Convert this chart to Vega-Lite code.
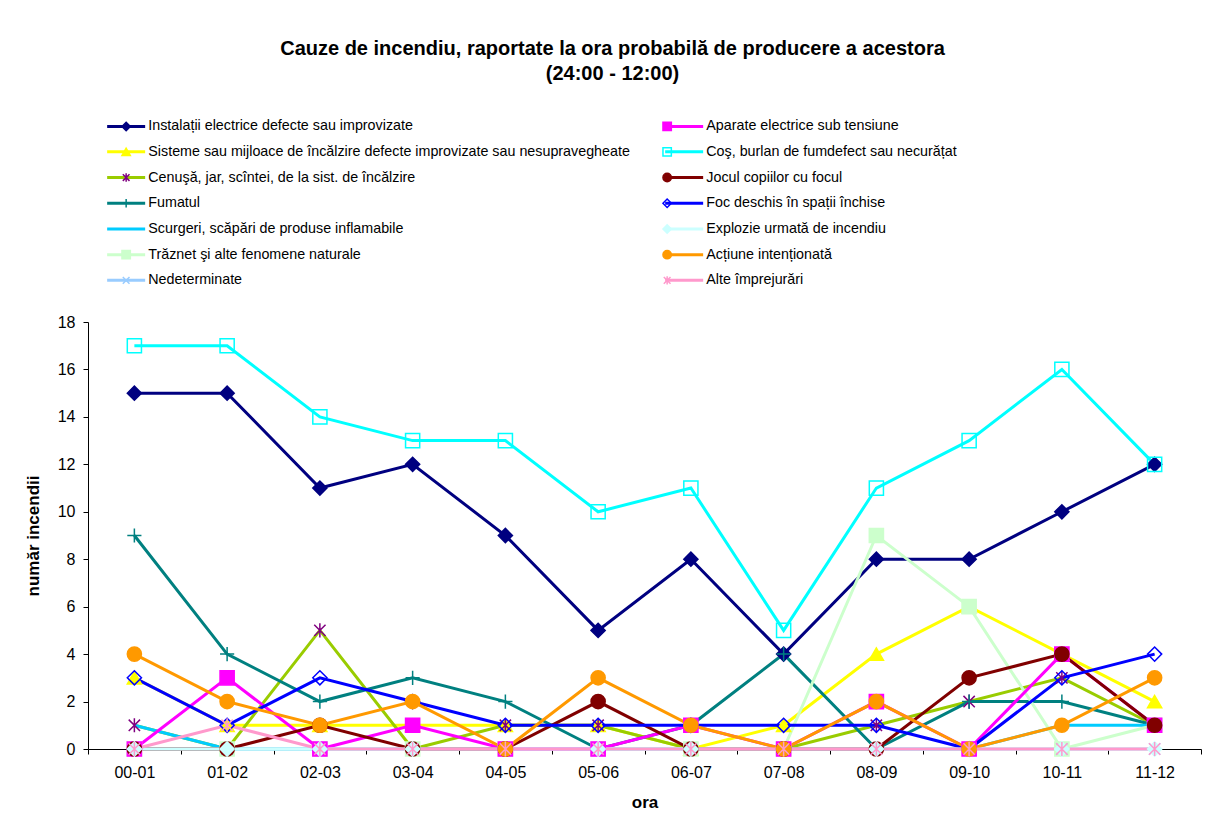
{
  "$schema": "https://vega.github.io/schema/vega-lite/v6.json",
  "autosize": "none",
  "width": 1113,
  "height": 427,
  "padding": {"left": 88, "top": 322, "right": 10, "bottom": 83},
  "background": "white",
  "config": {"font": "Liberation Sans", "view": {"stroke": null}},
  "title": {
    "text": ["Cauze de incendiu, raportate la ora probabilă de producere a acestora", "(24:00 - 12:00)"],
    "fontSize": 20, "fontWeight": "bold", "font": "Liberation Sans", "color": "black",
    "anchor": "middle", "frame": "group", "dx": -32, "offset": 35, "lineHeight": 25
  },
  "data": {"values": [
    {"ora":"00-01","cauza":"Instalații electrice defecte sau improvizate","n":15},
    {"ora":"01-02","cauza":"Instalații electrice defecte sau improvizate","n":15},
    {"ora":"02-03","cauza":"Instalații electrice defecte sau improvizate","n":11},
    {"ora":"03-04","cauza":"Instalații electrice defecte sau improvizate","n":12},
    {"ora":"04-05","cauza":"Instalații electrice defecte sau improvizate","n":9},
    {"ora":"05-06","cauza":"Instalații electrice defecte sau improvizate","n":5},
    {"ora":"06-07","cauza":"Instalații electrice defecte sau improvizate","n":8},
    {"ora":"07-08","cauza":"Instalații electrice defecte sau improvizate","n":4},
    {"ora":"08-09","cauza":"Instalații electrice defecte sau improvizate","n":8},
    {"ora":"09-10","cauza":"Instalații electrice defecte sau improvizate","n":8},
    {"ora":"10-11","cauza":"Instalații electrice defecte sau improvizate","n":10},
    {"ora":"11-12","cauza":"Instalații electrice defecte sau improvizate","n":12},
    {"ora":"00-01","cauza":"Sisteme sau mijloace de încălzire defecte improvizate sau nesupravegheate","n":3},
    {"ora":"01-02","cauza":"Sisteme sau mijloace de încălzire defecte improvizate sau nesupravegheate","n":1},
    {"ora":"02-03","cauza":"Sisteme sau mijloace de încălzire defecte improvizate sau nesupravegheate","n":1},
    {"ora":"03-04","cauza":"Sisteme sau mijloace de încălzire defecte improvizate sau nesupravegheate","n":1},
    {"ora":"04-05","cauza":"Sisteme sau mijloace de încălzire defecte improvizate sau nesupravegheate","n":1},
    {"ora":"05-06","cauza":"Sisteme sau mijloace de încălzire defecte improvizate sau nesupravegheate","n":1},
    {"ora":"06-07","cauza":"Sisteme sau mijloace de încălzire defecte improvizate sau nesupravegheate","n":0},
    {"ora":"07-08","cauza":"Sisteme sau mijloace de încălzire defecte improvizate sau nesupravegheate","n":1},
    {"ora":"08-09","cauza":"Sisteme sau mijloace de încălzire defecte improvizate sau nesupravegheate","n":4},
    {"ora":"09-10","cauza":"Sisteme sau mijloace de încălzire defecte improvizate sau nesupravegheate","n":6},
    {"ora":"10-11","cauza":"Sisteme sau mijloace de încălzire defecte improvizate sau nesupravegheate","n":4},
    {"ora":"11-12","cauza":"Sisteme sau mijloace de încălzire defecte improvizate sau nesupravegheate","n":2},
    {"ora":"00-01","cauza":"Cenuşă, jar, scîntei, de la sist. de încălzire","n":1},
    {"ora":"01-02","cauza":"Cenuşă, jar, scîntei, de la sist. de încălzire","n":0},
    {"ora":"02-03","cauza":"Cenuşă, jar, scîntei, de la sist. de încălzire","n":5},
    {"ora":"03-04","cauza":"Cenuşă, jar, scîntei, de la sist. de încălzire","n":0},
    {"ora":"04-05","cauza":"Cenuşă, jar, scîntei, de la sist. de încălzire","n":1},
    {"ora":"05-06","cauza":"Cenuşă, jar, scîntei, de la sist. de încălzire","n":1},
    {"ora":"06-07","cauza":"Cenuşă, jar, scîntei, de la sist. de încălzire","n":0},
    {"ora":"07-08","cauza":"Cenuşă, jar, scîntei, de la sist. de încălzire","n":0},
    {"ora":"08-09","cauza":"Cenuşă, jar, scîntei, de la sist. de încălzire","n":1},
    {"ora":"09-10","cauza":"Cenuşă, jar, scîntei, de la sist. de încălzire","n":2},
    {"ora":"10-11","cauza":"Cenuşă, jar, scîntei, de la sist. de încălzire","n":3},
    {"ora":"11-12","cauza":"Cenuşă, jar, scîntei, de la sist. de încălzire","n":1},
    {"ora":"00-01","cauza":"Fumatul","n":9},
    {"ora":"01-02","cauza":"Fumatul","n":4},
    {"ora":"02-03","cauza":"Fumatul","n":2},
    {"ora":"03-04","cauza":"Fumatul","n":3},
    {"ora":"04-05","cauza":"Fumatul","n":2},
    {"ora":"05-06","cauza":"Fumatul","n":0},
    {"ora":"06-07","cauza":"Fumatul","n":1},
    {"ora":"07-08","cauza":"Fumatul","n":4},
    {"ora":"08-09","cauza":"Fumatul","n":0},
    {"ora":"09-10","cauza":"Fumatul","n":2},
    {"ora":"10-11","cauza":"Fumatul","n":2},
    {"ora":"11-12","cauza":"Fumatul","n":1},
    {"ora":"00-01","cauza":"Scurgeri, scăpări de produse inflamabile","n":1},
    {"ora":"01-02","cauza":"Scurgeri, scăpări de produse inflamabile","n":0},
    {"ora":"02-03","cauza":"Scurgeri, scăpări de produse inflamabile","n":0},
    {"ora":"03-04","cauza":"Scurgeri, scăpări de produse inflamabile","n":0},
    {"ora":"04-05","cauza":"Scurgeri, scăpări de produse inflamabile","n":0},
    {"ora":"05-06","cauza":"Scurgeri, scăpări de produse inflamabile","n":0},
    {"ora":"06-07","cauza":"Scurgeri, scăpări de produse inflamabile","n":0},
    {"ora":"07-08","cauza":"Scurgeri, scăpări de produse inflamabile","n":0},
    {"ora":"08-09","cauza":"Scurgeri, scăpări de produse inflamabile","n":0},
    {"ora":"09-10","cauza":"Scurgeri, scăpări de produse inflamabile","n":0},
    {"ora":"10-11","cauza":"Scurgeri, scăpări de produse inflamabile","n":1},
    {"ora":"11-12","cauza":"Scurgeri, scăpări de produse inflamabile","n":1},
    {"ora":"00-01","cauza":"Trăznet şi alte fenomene naturale","n":0},
    {"ora":"01-02","cauza":"Trăznet şi alte fenomene naturale","n":0},
    {"ora":"02-03","cauza":"Trăznet şi alte fenomene naturale","n":0},
    {"ora":"03-04","cauza":"Trăznet şi alte fenomene naturale","n":0},
    {"ora":"04-05","cauza":"Trăznet şi alte fenomene naturale","n":0},
    {"ora":"05-06","cauza":"Trăznet şi alte fenomene naturale","n":0},
    {"ora":"06-07","cauza":"Trăznet şi alte fenomene naturale","n":0},
    {"ora":"07-08","cauza":"Trăznet şi alte fenomene naturale","n":0},
    {"ora":"08-09","cauza":"Trăznet şi alte fenomene naturale","n":9},
    {"ora":"09-10","cauza":"Trăznet şi alte fenomene naturale","n":6},
    {"ora":"10-11","cauza":"Trăznet şi alte fenomene naturale","n":0},
    {"ora":"11-12","cauza":"Trăznet şi alte fenomene naturale","n":1},
    {"ora":"00-01","cauza":"Nedeterminate","n":0},
    {"ora":"01-02","cauza":"Nedeterminate","n":0},
    {"ora":"02-03","cauza":"Nedeterminate","n":0},
    {"ora":"03-04","cauza":"Nedeterminate","n":0},
    {"ora":"04-05","cauza":"Nedeterminate","n":0},
    {"ora":"05-06","cauza":"Nedeterminate","n":0},
    {"ora":"06-07","cauza":"Nedeterminate","n":0},
    {"ora":"07-08","cauza":"Nedeterminate","n":0},
    {"ora":"08-09","cauza":"Nedeterminate","n":0},
    {"ora":"09-10","cauza":"Nedeterminate","n":0},
    {"ora":"10-11","cauza":"Nedeterminate","n":0},
    {"ora":"11-12","cauza":"Nedeterminate","n":0},
    {"ora":"00-01","cauza":"Aparate electrice sub tensiune","n":0},
    {"ora":"01-02","cauza":"Aparate electrice sub tensiune","n":3},
    {"ora":"02-03","cauza":"Aparate electrice sub tensiune","n":0},
    {"ora":"03-04","cauza":"Aparate electrice sub tensiune","n":1},
    {"ora":"04-05","cauza":"Aparate electrice sub tensiune","n":0},
    {"ora":"05-06","cauza":"Aparate electrice sub tensiune","n":0},
    {"ora":"06-07","cauza":"Aparate electrice sub tensiune","n":1},
    {"ora":"07-08","cauza":"Aparate electrice sub tensiune","n":0},
    {"ora":"08-09","cauza":"Aparate electrice sub tensiune","n":2},
    {"ora":"09-10","cauza":"Aparate electrice sub tensiune","n":0},
    {"ora":"10-11","cauza":"Aparate electrice sub tensiune","n":4},
    {"ora":"11-12","cauza":"Aparate electrice sub tensiune","n":1},
    {"ora":"00-01","cauza":"Coş, burlan de fumdefect sau necurățat","n":17},
    {"ora":"01-02","cauza":"Coş, burlan de fumdefect sau necurățat","n":17},
    {"ora":"02-03","cauza":"Coş, burlan de fumdefect sau necurățat","n":14},
    {"ora":"03-04","cauza":"Coş, burlan de fumdefect sau necurățat","n":13},
    {"ora":"04-05","cauza":"Coş, burlan de fumdefect sau necurățat","n":13},
    {"ora":"05-06","cauza":"Coş, burlan de fumdefect sau necurățat","n":10},
    {"ora":"06-07","cauza":"Coş, burlan de fumdefect sau necurățat","n":11},
    {"ora":"07-08","cauza":"Coş, burlan de fumdefect sau necurățat","n":5},
    {"ora":"08-09","cauza":"Coş, burlan de fumdefect sau necurățat","n":11},
    {"ora":"09-10","cauza":"Coş, burlan de fumdefect sau necurățat","n":13},
    {"ora":"10-11","cauza":"Coş, burlan de fumdefect sau necurățat","n":16},
    {"ora":"11-12","cauza":"Coş, burlan de fumdefect sau necurățat","n":12},
    {"ora":"00-01","cauza":"Jocul copiilor cu focul","n":0},
    {"ora":"01-02","cauza":"Jocul copiilor cu focul","n":0},
    {"ora":"02-03","cauza":"Jocul copiilor cu focul","n":1},
    {"ora":"03-04","cauza":"Jocul copiilor cu focul","n":0},
    {"ora":"04-05","cauza":"Jocul copiilor cu focul","n":0},
    {"ora":"05-06","cauza":"Jocul copiilor cu focul","n":2},
    {"ora":"06-07","cauza":"Jocul copiilor cu focul","n":0},
    {"ora":"07-08","cauza":"Jocul copiilor cu focul","n":0},
    {"ora":"08-09","cauza":"Jocul copiilor cu focul","n":0},
    {"ora":"09-10","cauza":"Jocul copiilor cu focul","n":3},
    {"ora":"10-11","cauza":"Jocul copiilor cu focul","n":4},
    {"ora":"11-12","cauza":"Jocul copiilor cu focul","n":1},
    {"ora":"00-01","cauza":"Foc deschis în spații închise","n":3},
    {"ora":"01-02","cauza":"Foc deschis în spații închise","n":1},
    {"ora":"02-03","cauza":"Foc deschis în spații închise","n":3},
    {"ora":"03-04","cauza":"Foc deschis în spații închise","n":2},
    {"ora":"04-05","cauza":"Foc deschis în spații închise","n":1},
    {"ora":"05-06","cauza":"Foc deschis în spații închise","n":1},
    {"ora":"06-07","cauza":"Foc deschis în spații închise","n":1},
    {"ora":"07-08","cauza":"Foc deschis în spații închise","n":1},
    {"ora":"08-09","cauza":"Foc deschis în spații închise","n":1},
    {"ora":"09-10","cauza":"Foc deschis în spații închise","n":0},
    {"ora":"10-11","cauza":"Foc deschis în spații închise","n":3},
    {"ora":"11-12","cauza":"Foc deschis în spații închise","n":4},
    {"ora":"00-01","cauza":"Explozie urmată de incendiu","n":0},
    {"ora":"01-02","cauza":"Explozie urmată de incendiu","n":0},
    {"ora":"02-03","cauza":"Explozie urmată de incendiu","n":0},
    {"ora":"03-04","cauza":"Explozie urmată de incendiu","n":0},
    {"ora":"04-05","cauza":"Explozie urmată de incendiu","n":0},
    {"ora":"05-06","cauza":"Explozie urmată de incendiu","n":0},
    {"ora":"06-07","cauza":"Explozie urmată de incendiu","n":0},
    {"ora":"07-08","cauza":"Explozie urmată de incendiu","n":0},
    {"ora":"08-09","cauza":"Explozie urmată de incendiu","n":0},
    {"ora":"09-10","cauza":"Explozie urmată de incendiu","n":0},
    {"ora":"10-11","cauza":"Explozie urmată de incendiu","n":0},
    {"ora":"11-12","cauza":"Explozie urmată de incendiu","n":0},
    {"ora":"00-01","cauza":"Acțiune intenționată","n":4},
    {"ora":"01-02","cauza":"Acțiune intenționată","n":2},
    {"ora":"02-03","cauza":"Acțiune intenționată","n":1},
    {"ora":"03-04","cauza":"Acțiune intenționată","n":2},
    {"ora":"04-05","cauza":"Acțiune intenționată","n":0},
    {"ora":"05-06","cauza":"Acțiune intenționată","n":3},
    {"ora":"06-07","cauza":"Acțiune intenționată","n":1},
    {"ora":"07-08","cauza":"Acțiune intenționată","n":0},
    {"ora":"08-09","cauza":"Acțiune intenționată","n":2},
    {"ora":"09-10","cauza":"Acțiune intenționată","n":0},
    {"ora":"10-11","cauza":"Acțiune intenționată","n":1},
    {"ora":"11-12","cauza":"Acțiune intenționată","n":3},
    {"ora":"00-01","cauza":"Alte împrejurări","n":0},
    {"ora":"01-02","cauza":"Alte împrejurări","n":1},
    {"ora":"02-03","cauza":"Alte împrejurări","n":0},
    {"ora":"03-04","cauza":"Alte împrejurări","n":0},
    {"ora":"04-05","cauza":"Alte împrejurări","n":0},
    {"ora":"05-06","cauza":"Alte împrejurări","n":0},
    {"ora":"06-07","cauza":"Alte împrejurări","n":0},
    {"ora":"07-08","cauza":"Alte împrejurări","n":0},
    {"ora":"08-09","cauza":"Alte împrejurări","n":0},
    {"ora":"09-10","cauza":"Alte împrejurări","n":0},
    {"ora":"10-11","cauza":"Alte împrejurări","n":0},
    {"ora":"11-12","cauza":"Alte împrejurări","n":0}
  ]},
  "encoding": {
    "x": {
      "field": "ora", "type": "nominal",
      "scale": {"type": "band", "paddingInner": 0, "paddingOuter": 0},
      "axis": {
        "title": "ora", "titleFontSize": 17, "titleFontWeight": "bold", "titleColor": "black", "titlePadding": 14,
        "labelAngle": 0, "labelFontSize": 16, "labelColor": "black", "labelPadding": 10,
        "tickBand": "extent", "tickSize": 5, "tickColor": "black", "domainColor": "black", "grid": false
      }
    },
    "y": {
      "field": "n", "type": "quantitative",
      "scale": {"domain": [0, 18], "nice": false, "zero": true},
      "axis": {
        "title": "număr incendii", "titleFontSize": 17, "titleFontWeight": "bold", "titleColor": "black", "titlePadding": 15,
        "values": [0, 2, 4, 6, 8, 10, 12, 14, 16, 18],
        "labelFontSize": 16, "labelColor": "black", "labelPadding": 8,
        "tickSize": 5, "tickColor": "black", "domainColor": "black", "grid": false
      }
    }
  },
  "layer": [
    {
      "mark": {"type": "line", "strokeWidth": 3},
      "encoding": {
        "color": {
          "field": "cauza", "type": "nominal",
          "scale": {
            "domain": [
              "Instalații electrice defecte sau improvizate",
              "Sisteme sau mijloace de încălzire defecte improvizate sau nesupravegheate",
              "Cenuşă, jar, scîntei, de la sist. de încălzire",
              "Fumatul",
              "Scurgeri, scăpări de produse inflamabile",
              "Trăznet şi alte fenomene naturale",
              "Nedeterminate",
              "Aparate electrice sub tensiune",
              "Coş, burlan de fumdefect sau necurățat",
              "Jocul copiilor cu focul",
              "Foc deschis în spații închise",
              "Explozie urmată de incendiu",
              "Acțiune intenționată",
              "Alte împrejurări"
            ],
            "range": ["#000080", "#FFFF00", "#99CC00", "#008080", "#00CCFF", "#CCFFCC", "#99CCFF", "#FF00FF", "#00FFFF", "#800000", "#0000FF", "#CCFFFF", "#FF9900", "#FF99CC"]
          },
          "legend": {
            "title": null, "orient": "none", "legendX": 31, "legendY": -203,
            "columns": 2, "columnPadding": 29, "rowPadding": 10.7,
            "symbolType": "M-9.5,0H9.5", "symbolSize": 16, "symbolStrokeWidth": 3,
            "labelFontSize": 14.3, "labelColor": "black", "labelOffset": 15, "labelLimit": 0
          }
        }
      }
    },
    {
      "mark": {"type": "point", "filled": true, "opacity": 1, "size": 200, "strokeWidth": 1.5},
      "encoding": {
        "shape": {
          "field": "cauza", "type": "nominal", "sort": null,
          "scale": {"range": ["diamond", "triangle-up", "M-0.8,-0.8L0.8,0.8M-0.8,0.8L0.8,-0.8M0,-1V1", "M-1,0H1M0,-1V1", "circle", "square", "M-0.8,-0.8L0.8,0.8M-0.8,0.8L0.8,-0.8", "square", "square", "circle", "diamond", "diamond", "circle", "M-0.8,-0.8L0.8,0.8M-0.8,0.8L0.8,-0.8M0,-1V1"]},
          "legend": {
            "title": null, "orient": "none", "legendX": 31, "legendY": -203,
            "columns": 2, "columnPadding": 495, "rowPadding": 9.7,
            "symbolSize": 70, "symbolStrokeWidth": 1.5,
            "labelExpr": "' '",
            "labelFontSize": 14.3, "labelOpacity": 0, "labelOffset": 30.6, "labelLimit": 0
          }
        },
        "fill": {
          "field": "cauza", "type": "nominal", "sort": null,
          "scale": {"range": ["#000080", "#FFFF00", "transparent", "transparent", "transparent", "#CCFFCC", "transparent", "#FF00FF", "transparent", "#800000", "transparent", "#CCFFFF", "#FF9900", "transparent"]}
        },
        "stroke": {
          "field": "cauza", "type": "nominal", "sort": null,
          "scale": {"range": ["#000080", "#FFFF00", "#800080", "#008080", "transparent", "#CCFFCC", "#99CCFF", "#FF00FF", "#00FFFF", "#800000", "#0000FF", "#CCFFFF", "#FF9900", "#FF99CC"]}
        }
      }
    }
  ]
}
